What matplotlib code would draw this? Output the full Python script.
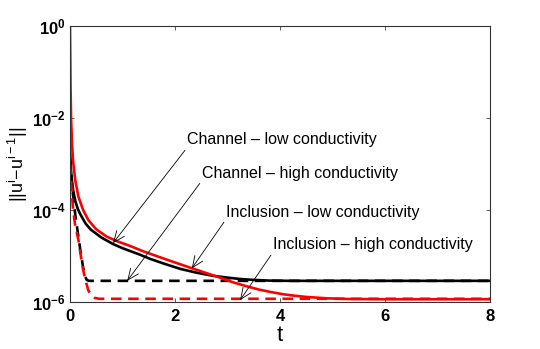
import numpy as np
import matplotlib
matplotlib.use("Agg")
import matplotlib.pyplot as plt

plt.rcParams['font.family'] = ['Liberation Sans', 'DejaVu Sans']
plt.rcParams['mathtext.fontset'] = 'custom'
plt.rcParams['mathtext.rm'] = 'Liberation Sans'
plt.rcParams['mathtext.it'] = 'Liberation Sans:italic'
plt.rcParams['mathtext.bf'] = 'Liberation Sans:bold'

# ---- data (log10 of the norm) ----
t_ch_low = [0, 0.02, 0.04, 0.06, 0.1, 0.15, 0.2, 0.3, 0.4, 0.6, 0.82, 1.0, 1.14, 1.33, 1.52, 1.8,
            2.1, 2.4, 2.72, 3.0, 3.24, 3.5, 3.8, 4.2, 8]
lg_ch_low = [-2.7, -3.15, -3.4, -3.57, -3.8, -3.98, -4.1, -4.3, -4.43, -4.6, -4.74, -4.83, -4.89,
             -4.97, -5.06, -5.17, -5.28, -5.36, -5.43, -5.47, -5.5, -5.52, -5.535, -5.54, -5.54]

t_ch_high = [0, 0.02, 0.05, 0.1, 0.15, 0.2, 0.25, 0.29, 0.32, 0.36, 8]
lg_ch_high = [-2.87, -3.2, -3.6, -4.1, -4.5, -4.9, -5.25, -5.45, -5.52, -5.54, -5.54]

t_in_low = [0, 0.01, 0.02, 0.04, 0.06, 0.1, 0.16, 0.25, 0.35, 0.5, 0.7, 0.9, 1.14, 1.4, 1.77,
            2.1, 2.41, 2.83, 3.1, 3.37, 3.6, 3.81, 4.05, 4.25, 4.5, 4.89, 5.3, 6, 8]
lg_in_low = [0, -1.3, -2.0, -2.6, -2.95, -3.35, -3.71, -4.0, -4.22, -4.42, -4.58, -4.68, -4.78,
             -4.9, -5.05, -5.18, -5.3, -5.46, -5.57, -5.66, -5.73, -5.78, -5.83, -5.86, -5.89,
             -5.92, -5.935, -5.94, -5.94]

t_in_high = [0, 0.03, 0.06, 0.1, 0.16, 0.2, 0.25, 0.3, 0.35, 0.41, 0.47, 0.55, 8]
lg_in_high = [-3.0, -3.55, -4.0, -4.35, -4.65, -4.95, -5.3, -5.55, -5.75, -5.86, -5.91, -5.93, -5.93]

labels = ["Channel \u2013 low conductivity", "Channel \u2013 high conductivity",
          "Inclusion \u2013 low conductivity", "Inclusion \u2013 high conductivity"]
# arrow targets (t, value)
targets = [(0.82, 10**-4.72), (1.09, 10**-5.54), (2.32, 10**-5.27), (3.24, 10**-5.96)]
text_pos = [(0.279, 0.587), (0.314, 0.467), (0.371, 0.326), (0.483, 0.207)]

xticks = [0, 2, 4, 6, 8]
yticks = [1e-6, 1e-4, 1e-2, 1e0]
yticklabels = [r'$\mathbf{10^{-6}}$', r'$\mathbf{10^{-4}}$', r'$\mathbf{10^{-2}}$', r'$\mathbf{10^{0}}$']

fig = plt.figure(figsize=(5.4, 3.49), dpi=100)
ax = fig.add_axes([70/540, 47/349, 420/540, 276/349])

lw = 1.9
ax.plot(t_ch_low, 10**np.array(lg_ch_low), color='black', lw=lw)
ax.plot(t_ch_high, 10**np.array(lg_ch_high), color='black', lw=lw, ls=(0, (4, 2.5)))
ax.plot(t_in_low, 10**np.array(lg_in_low), color='red', lw=lw)
ax.plot(t_in_high, 10**np.array(lg_in_high), color='red', lw=lw, ls=(0, (4, 2.5)))

ax.set_yscale('log')
ax.set_xlim(0, 8)
ax.set_ylim(1e-6, 1e0)
ax.set_xticks(xticks)
ax.set_xticklabels([str(v) for v in xticks], fontsize=12, fontweight='bold')
ax.set_yticks(yticks)
ax.set_yticklabels(yticklabels, fontsize=12)
ax.minorticks_off()
ax.tick_params(direction='in', top=True, right=True, length=3, width=0.6, color='#444444', pad=5)
ax.tick_params(axis='y', pad=3)
for s in ax.spines.values():
    s.set_linewidth(0.8)
    s.set_color('#333333')

ax.set_xlabel('t', fontsize=16, labelpad=1)
ax.set_ylabel(r'||u$^{\mathrm{i}}$$-$u$^{\mathrm{i-1}}$||', fontsize=13)
ax.yaxis.set_label_coords(-0.095, 0.5)

for lab, tg, tp in zip(labels, targets, text_pos):
    ax.annotate(lab, xy=tg, xycoords='data', xytext=tp, textcoords='axes fraction',
                fontsize=11.5, ha='left', va='center',
                arrowprops=dict(arrowstyle='->,head_length=0.7,head_width=0.3', color='black',
                                lw=0.6, shrinkA=0, shrinkB=0, relpos=(0, 0)))

fig.savefig('out.png', dpi=100)
